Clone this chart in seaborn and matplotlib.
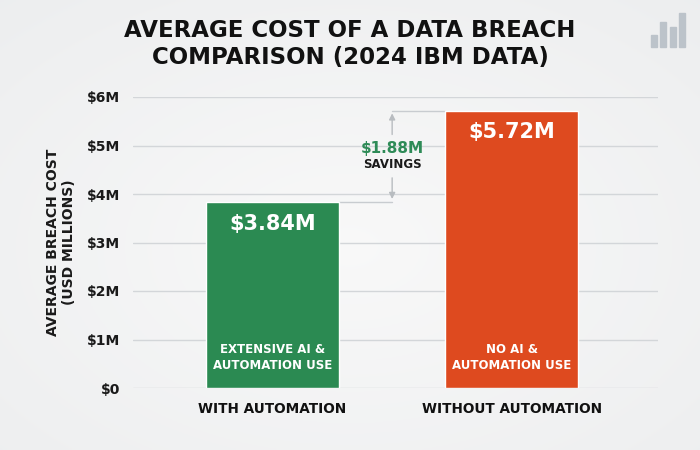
import numpy as np
import pandas as pd
import matplotlib
matplotlib.use("Agg")
import matplotlib.pyplot as plt
import seaborn as sns

# ---- data ----
categories = ["WITH AUTOMATION", "WITHOUT AUTOMATION"]
costs = [3.84, 5.72]
value_labels = ["$3.84M", "$5.72M"]
inner_labels = ["EXTENSIVE AI &\nAUTOMATION USE", "NO AI &\nAUTOMATION USE"]
bar_colors = ["#2B8A52", "#DE4A1F"]
y_ticks = [0, 1, 2, 3, 4, 5, 6]
y_tick_labels = ["$0", "$1M", "$2M", "$3M", "$4M", "$5M", "$6M"]
savings_label = "$1.88M"

df = pd.DataFrame({"category": categories, "cost": costs})

sns.set_theme(style="white")
plt.rcParams["font.family"] = ["DejaVu Sans"]

W, H = 700, 450
fig = plt.figure(figsize=(W / 100, H / 100), dpi=100)
fig.patch.set_facecolor("#eff0f1")

# background soft radial gradient
bg = fig.add_axes([0, 0, 1, 1], zorder=-10)
yy, xx = np.mgrid[0:1:200j, 0:1:300j]
r = np.sqrt(((xx - 0.5) / 0.8) ** 2 + ((yy - 0.45) / 0.8) ** 2)
g = np.clip(1 - r, 0, 1)
c0 = np.array([0.925, 0.93, 0.935])
c1 = np.array([0.975, 0.975, 0.975])
img = c0[None, None, :] + (c1 - c0)[None, None, :] * g[:, :, None]
bg.imshow(img, extent=[0, 1, 0, 1], aspect="auto", origin="lower")
bg.set_axis_off()

# small chart icon (decoration)
for (x0, x1, ytop) in [(651, 657, 35), (660, 666, 22), (670, 676, 27), (679, 685, 13)]:
    fig.patches.append(plt.Rectangle((x0 / W, 1 - 47 / H), (x1 - x0) / W, (47 - ytop) / H,
                                     transform=fig.transFigure, color="#bcc3ca", zorder=-5))

ax = fig.add_axes([133 / W, 1 - 388 / H, (658 - 133) / W, (388 - 97) / H])
ax.set_facecolor("none")

sns.barplot(data=df, x="category", y="cost", hue="category", palette=bar_colors,
            width=0.555, saturation=1, legend=False, ax=ax, zorder=3)

ax.set_xlim(-0.582, 1.61)
ax.set_ylim(0, 6)
ax.set_yticks(y_ticks)
ax.set_yticklabels(y_tick_labels, fontsize=10, fontweight="bold", color="#1a1a1a")
ax.tick_params(axis="y", length=0, pad=9)
ax.tick_params(axis="x", length=0, pad=10)
for lab in ax.get_xticklabels():
    lab.set_fontsize(9.8)
    lab.set_fontweight("bold")
    lab.set_color("#111111")
ax.grid(axis="y", color="#d3d6d9", linewidth=1, zorder=0)
ax.set_axisbelow(True)
for s in ax.spines.values():
    s.set_visible(False)
ax.set_xlabel("")
ax.set_ylabel("AVERAGE BREACH COST\n(USD MILLIONS)", fontsize=10, fontweight="bold",
              color="#1a1a1a", labelpad=8, linespacing=1.15)

for i, (v, vl, il) in enumerate(zip(costs, value_labels, inner_labels)):
    ax.text(i, v - 0.45, vl, ha="center", va="center", color="white",
            fontsize=15, fontweight="bold", zorder=5)
    ax.text(i, 0.62, il, ha="center", va="center", color="white",
            fontsize=8.5, fontweight="bold", linespacing=1.3, zorder=5)

# savings annotation
xm = 0.5
lo, hi = costs[0], costs[1]
half_w = 0.555 / 2
ax.plot([0 + half_w, xm], [lo, lo], color="#c8ccd0", lw=1, zorder=2)
ax.plot([xm, 1 - half_w], [hi, hi], color="#c8ccd0", lw=1, zorder=2)
ax.annotate("", xy=(xm, hi), xytext=(xm, 5.17),
            arrowprops=dict(arrowstyle="-|>", color="#b8bcc0", lw=1, mutation_scale=9))
ax.annotate("", xy=(xm, lo), xytext=(xm, 4.39),
            arrowprops=dict(arrowstyle="-|>", color="#b8bcc0", lw=1, mutation_scale=9))
ax.text(xm, 4.94, savings_label, ha="center", va="center", color="#2E8B57",
        fontsize=11, fontweight="bold")
ax.text(xm, 4.6, "SAVINGS", ha="center", va="center", color="#1a1a1a",
        fontsize=8.5, fontweight="bold")

fig.text(0.5, 1 - 44 / H, "AVERAGE COST OF A DATA BREACH\nCOMPARISON (2024 IBM DATA)",
         ha="center", va="center", fontsize=16.5, fontweight="bold", color="#111111",
         linespacing=1.2)

fig.savefig("out.png", dpi=100, facecolor=fig.get_facecolor())
